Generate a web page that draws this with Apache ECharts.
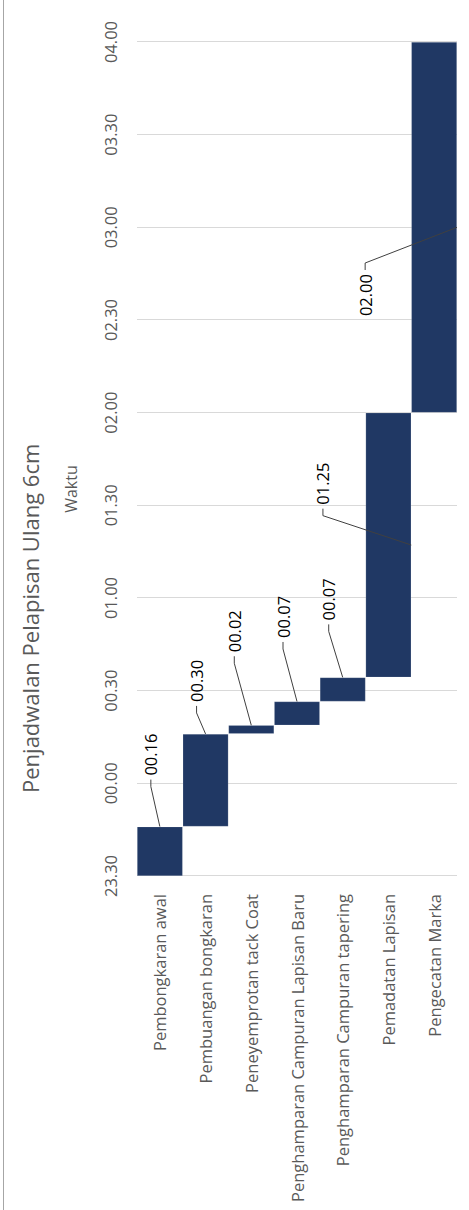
<!DOCTYPE html>
<html>
<head>
<meta charset="utf-8">
<script src="https://cdn.jsdelivr.net/npm/echarts@6/dist/echarts.min.js"></script>
<style>
html,body{margin:0;padding:0;background:#fff;overflow:hidden;width:469px;height:1210px;}
#wrap{position:absolute;left:0;top:0;width:1210px;height:469px;transform-origin:0 0;transform:translateY(1210px) rotate(-90deg);background:#fff;}
</style>
</head>
<body>
<div id="wrap"></div>
<script>
// ---- data ----
const TITLE = 'Penjadwalan Pelapisan Ulang 6cm';
const AXIS_TITLE = 'Waktu';
const CATEGORIES = [
  'Pembongkaran awal',
  'Pembuangan bongkaran',
  'Peneyemprotan tack Coat',
  'Penghamparan Campuran Lapisan Baru',
  'Penghamparan Campuran tapering',
  'Pemadatan Lapisan',
  'Pengecatan Marka'
];
// durations in minutes
const DURATIONS_MIN = [16, 30, 2.8, 7.7, 7.8, 85.7, 120];
// data-label texts as shown
const DURATION_LABELS = ['00.16', '00.30', '00.02', '00.07', '00.07', '01.25', '02.00'];
// time-axis tick labels (minutes from 23.30, every 30 min)
const TIME_LABELS = ['23.30', '00.00', '00.30', '01.00', '01.30', '02.00', '02.30', '03.00', '03.30', '04.00'];

// ---- derived ----
const STARTS = [];
let acc = 0;
DURATIONS_MIN.forEach(d => { STARTS.push(acc); acc += d; });
const ENDS = STARTS.map((s, i) => s + DURATIONS_MIN[i]);

// label placement relative to each bar end (layout only)
const LABEL_LAYOUT = [
  {ax: 51, ay: -9, side: 'left', anchor: 'end'},
  {ax: 32, ay: -9, side: 'left', anchor: 'end'},
  {ax: 73, ay: -17, side: 'left', anchor: 'end'},
  {ax: 63.5, ay: -14, side: 'left', anchor: 'end'},
  {ax: 57, ay: -14, side: 'left', anchor: 'end'},
  {ax: -92, ay: -65.5, side: 'left', anchor: 'mid'},
  {ax: -232, ay: -69, side: 'right', anchor: 'mid'}
];

const FONT = '"Open Sans", "Noto Sans", sans-serif';
const GREY = '#595959';
const BAR = '#203864';

const chart = echarts.init(document.getElementById('wrap'), null, {renderer: 'svg', width: 1210, height: 469});

chart.setOption({
  animation: false,
  backgroundColor: '#fff',
  title: {
    text: TITLE,
    left: 412,
    top: 14,
    textStyle: {fontFamily: FONT, fontSize: 22, fontWeight: 'normal', color: GREY}
  },
  graphic: [
    {type: 'line', shape: {x1: 0, y1: 3.5, x2: 1210, y2: 3.5}, style: {stroke: '#A6A6A6', lineWidth: 1}},
    {type: 'text', x: 721, y: 71, style: {text: AXIS_TITLE, align: 'center', verticalAlign: 'middle', fontFamily: FONT, fontSize: 16, fill: GREY}}
  ],
  grid: {left: 334, right: 42, top: 137, bottom: 12, containLabel: false},
  xAxis: {
    type: 'value',
    position: 'top',
    min: 0,
    max: 270,
    interval: 30,
    axisLine: {show: false},
    axisTick: {show: false},
    splitLine: {show: true, lineStyle: {color: '#D9D9D9', width: 1}},
    axisLabel: {
      margin: 18,
      color: GREY,
      fontFamily: FONT,
      fontSize: 16.5,
      formatter: v => TIME_LABELS[Math.round(v / 30)]
    }
  },
  yAxis: {
    type: 'category',
    data: CATEGORIES,
    inverse: true,
    axisLine: {show: false},
    axisTick: {show: false},
    splitLine: {show: false},
    axisLabel: {margin: 18, color: GREY, fontFamily: FONT, fontSize: 16.5}
  },
  series: [
    {
      type: 'bar',
      stack: 'gantt',
      data: STARTS,
      itemStyle: {color: 'transparent'},
      barCategoryGap: '0%',
      silent: true
    },
    {
      type: 'bar',
      stack: 'gantt',
      data: DURATIONS_MIN,
      barCategoryGap: '0%',
      itemStyle: {color: BAR, borderColor: 'rgba(255,255,255,0.25)', borderWidth: 0.6}
    },
    {
      type: 'custom',
      coordinateSystem: 'cartesian2d',
      clip: false,
      z: 10,
      silent: true,
      encode: {x: 0, y: 1},
      data: CATEGORIES.map((c, i) => [ENDS[i], i, STARTS[i]]),
      renderItem: function (params, api) {
        const i = params.dataIndex;
        const pEnd = api.coord([api.value(0), api.value(1)]);
        const pStart = api.coord([api.value(2), api.value(1)]);
        const band = api.size([0, 1])[1];
        const L = LABEL_LAYOUT[i];
        const anchor = L.anchor === 'end'
          ? [pEnd[0], pEnd[1]]
          : [(pStart[0] + pEnd[0]) / 2, pEnd[1] + band / 2];
        const ly = pEnd[1] + L.ay;
        const edge = pEnd[0] + L.ax;
        const gap = 4, len = 7;
        const sgn = L.side === 'left' ? -1 : 1;
        const t1 = edge + sgn * gap;
        const t0 = edge + sgn * (gap + len);
        return {
          type: 'group',
          children: [
            {type: 'polyline', shape: {points: [anchor, [t0, ly], [t1, ly]]},
             style: {stroke: '#404040', lineWidth: 1, fill: null}},
            {type: 'text', style: {text: DURATION_LABELS[i], x: edge, y: ly,
             align: L.side === 'left' ? 'left' : 'right', verticalAlign: 'middle',
             fontFamily: FONT, fontSize: 16.5, fill: '#000'}}
          ]
        };
      }
    }
  ]
});
</script>
</body>
</html>
